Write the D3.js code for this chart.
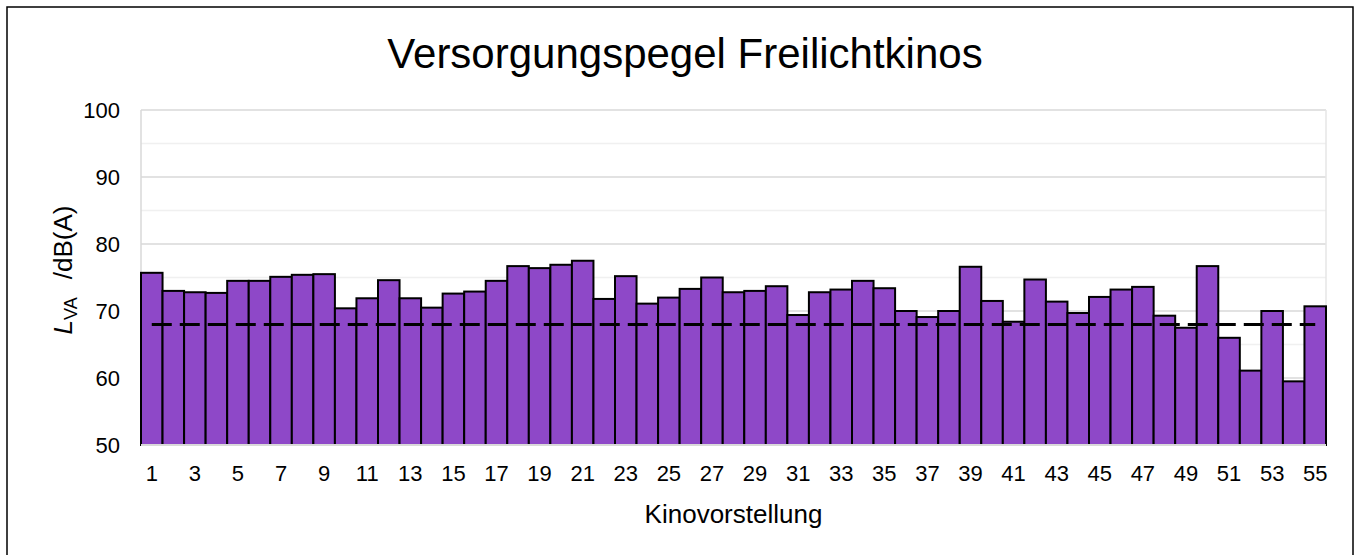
<!DOCTYPE html>
<html>
<head>
<meta charset="utf-8">
<script src="https://cdn.jsdelivr.net/npm/d3@7"></script>
<style>
  body { margin: 0; background: #fff; }
  svg { font-family: "Liberation Sans", Arial, sans-serif; }
</style>
</head>
<body>
<svg id="chart" width="1357" height="555"></svg>
<script>
// Kinovorstellungen 1..55
const shows = d3.range(1, 56);
// Versorgungspegel L_VA in dB(A)
const levels = [
  75.7, 73.0, 72.8, 72.7, 74.5, 74.5, 75.1, 75.4, 75.5, 70.4,
  71.9, 74.6, 71.9, 70.5, 72.6, 72.9, 74.5, 76.7, 76.4, 76.9,
  77.5, 71.8, 75.2, 71.1, 72.0, 73.3, 75.0, 72.8, 73.0, 73.7,
  69.4, 72.8, 73.2, 74.5, 73.4, 70.0, 69.1, 70.0, 76.6, 71.5,
  68.4, 74.7, 71.4, 69.7, 72.1, 73.2, 73.6, 69.3, 67.5, 76.7,
  66.0, 61.1, 70.0, 59.5, 70.7
];
const limit = 68;
const yTicks = [50, 60, 70, 80, 90, 100];
const yMinor = [55, 65, 75, 85, 95];

const svg = d3.select('#chart');
const width = +svg.attr('width');
const height = +svg.attr('height');
const margin = {top: 110, right: 31, bottom: 110, left: 141};
const innerWidth = width - margin.left - margin.right;
const innerHeight = height - margin.top - margin.bottom;

// outer frame (bottom edge lies below the picture)
svg.append('path')
  .attr('d', 'M7,560 V7 H1353 V560')
  .attr('fill', 'none').attr('stroke', '#000').attr('stroke-width', 1.5);

svg.append('text')
  .attr('x', 685).attr('y', 68)
  .attr('text-anchor', 'middle')
  .attr('font-size', 42)
  .text('Versorgungspegel Freilichtkinos');

const xScale = d3.scaleBand().domain(shows).range([0, innerWidth]).padding(0);
const yScale = d3.scaleLinear().domain([50, 100]).range([innerHeight, 0]);

const g = svg.append('g').attr('transform', `translate(${margin.left}, ${margin.top})`);

// gridlines
g.selectAll('.minor').data(yMinor).enter().append('line')
  .attr('x1', 0).attr('x2', innerWidth)
  .attr('y1', d => yScale(d)).attr('y2', d => yScale(d))
  .attr('stroke', '#f0f0f0').attr('stroke-width', 1.5);
g.selectAll('.major').data(yTicks.slice(1)).enter().append('line')
  .attr('x1', 0).attr('x2', innerWidth)
  .attr('y1', d => yScale(d)).attr('y2', d => yScale(d))
  .attr('stroke', '#d9d9d9').attr('stroke-width', 1.5);
g.append('line').attr('x1', 0).attr('x2', 0).attr('y1', 0).attr('y2', innerHeight)
  .attr('stroke', '#d9d9d9').attr('stroke-width', 1.5);
g.append('line').attr('x1', innerWidth).attr('x2', innerWidth).attr('y1', 0).attr('y2', innerHeight)
  .attr('stroke', '#e6e6e6').attr('stroke-width', 1.5);

// bars
g.selectAll('rect.bar').data(levels).enter().append('rect')
  .attr('class', 'bar')
  .attr('x', (d, i) => xScale(shows[i]))
  .attr('y', d => yScale(d))
  .attr('width', xScale.bandwidth())
  .attr('height', d => innerHeight - yScale(d))
  .attr('fill', '#8e48c8')
  .attr('stroke', '#000').attr('stroke-width', 2);

// baseline
g.append('line').attr('x1', 0).attr('x2', innerWidth)
  .attr('y1', innerHeight).attr('y2', innerHeight)
  .attr('stroke', '#d9d9d9').attr('stroke-width', 2);

// limit line
const half = xScale.bandwidth() / 2;
g.append('line')
  .attr('x1', xScale(shows[0]) + half).attr('x2', xScale(shows[shows.length - 1]) + half)
  .attr('y1', yScale(limit)).attr('y2', yScale(limit))
  .attr('stroke', '#000').attr('stroke-width', 3)
  .attr('stroke-dasharray', '20,8');

// axes
const yAxis = g.append('g').call(d3.axisLeft(yScale).tickValues(yTicks).tickSize(0).tickPadding(21));
yAxis.select('.domain').remove();
yAxis.selectAll('text').attr('font-size', 22).attr('font-family', 'Liberation Sans, Arial, sans-serif').attr('fill', '#000');

const xAxis = g.append('g').attr('transform', `translate(0, ${innerHeight})`)
  .call(d3.axisBottom(xScale).tickValues(shows.filter(d => d % 2 === 1)).tickSize(0).tickPadding(20));
xAxis.select('.domain').remove();
xAxis.selectAll('text').attr('font-size', 22).attr('font-family', 'Liberation Sans, Arial, sans-serif').attr('fill', '#000');

// axis titles
svg.append('text')
  .attr('x', margin.left + innerWidth / 2).attr('y', 523)
  .attr('text-anchor', 'middle').attr('font-size', 26)
  .text('Kinovorstellung');

const yl = svg.append('text')
  .attr('transform', 'translate(72, 270) rotate(-90)')
  .attr('text-anchor', 'middle').attr('font-size', 26);
yl.append('tspan').attr('font-style', 'italic').text('L');
yl.append('tspan').attr('font-size', 18).attr('dy', 5).text('VA');
yl.append('tspan').attr('dy', -5).attr('dx', 18).text('/dB(A)');
</script>
</body>
</html>
